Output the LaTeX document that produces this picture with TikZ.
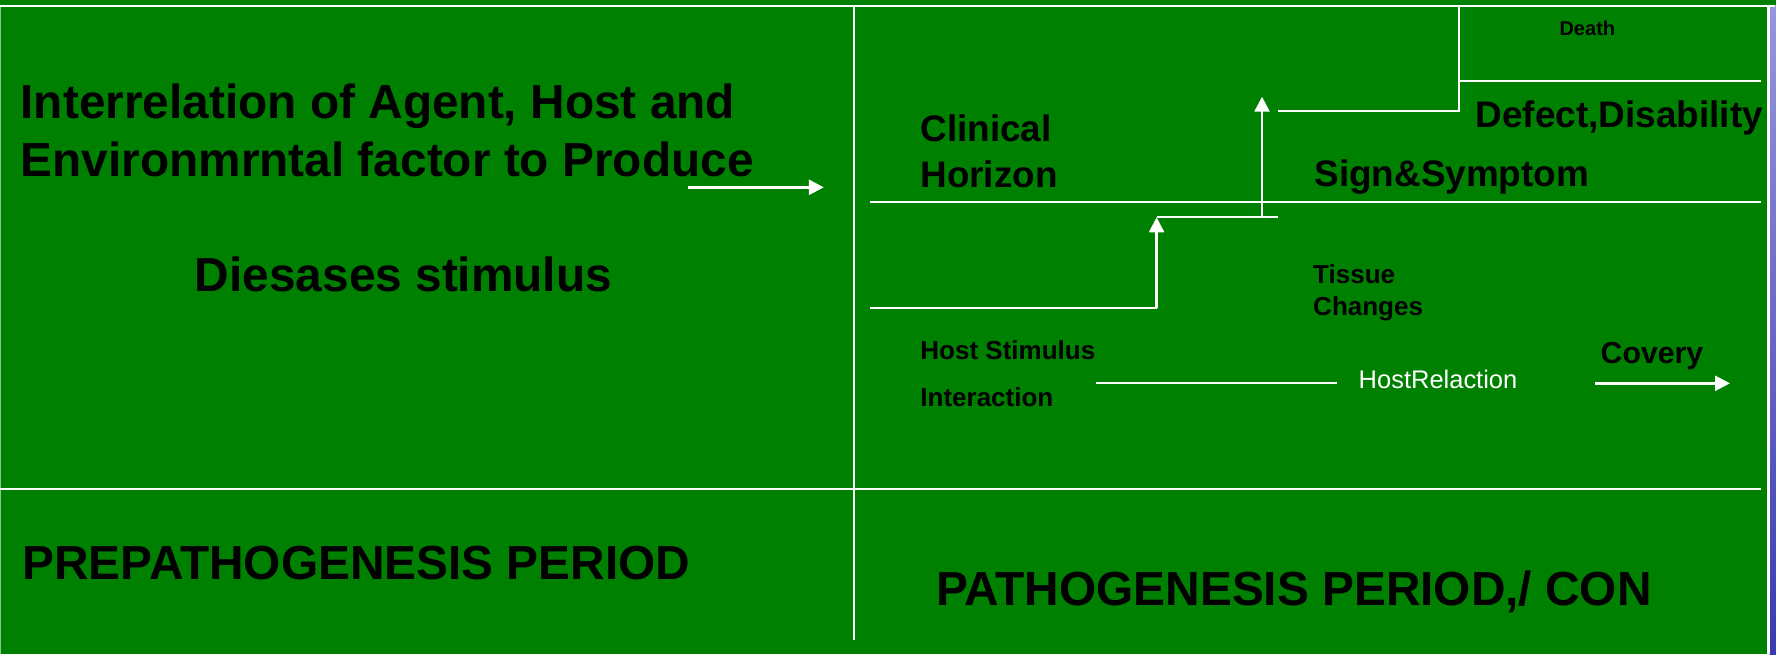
\documentclass[tikz,border=0pt]{standalone}
\usepackage{fontspec}
\setmainfont{Liberation Sans}
\usetikzlibrary{arrows.meta}
\definecolor{slidegreen}{RGB}{0,128,0}
\definecolor{edgelight}{RGB}{150,150,222}
\definecolor{edgeblue}{RGB}{58,58,178}
\tikzset{
  rule/.style={white,line width=0.6pt},
  pointer/.style={white,line width=0.7pt,-{Triangle[length=1.5mm,width=1.5mm]}},
  bigtxt/.style={inner sep=0pt,anchor=base west,font=\bfseries\fontsize{13.6}{16}\selectfont},
  midtxt/.style={inner sep=0pt,anchor=base west,font=\bfseries\fontsize{10.5}{12}\selectfont},
  smalltxt/.style={inner sep=0pt,anchor=base west,font=\bfseries\fontsize{7.4}{9}\selectfont},
}

\begin{document}
\begin{tikzpicture}
    \useasboundingbox (0,0) rectangle (17.76,6.54);
    \fill[slidegreen] (0,0) rectangle (17.76,6.54);
    \shade[top color=edgelight,bottom color=edgeblue] (17.697,0) rectangle (17.76,6.483);
    % frame and dividers
    \draw[white!55!slidegreen,line width=0.3pt] (0.005,6.483)--(0.005,0);
    \draw[rule] (0,6.483)--(17.75,6.483);
    \draw[rule] (17.685,6.483)--(17.685,0);
    \draw[rule] (8.54,6.483)--(8.54,0.14);
    \draw[rule] (0,1.647)--(17.61,1.647);
    \draw[rule] (8.70,4.523)--(17.61,4.523);
    % left panel
    \node[bigtxt] (inter1) at (0.20,5.36) {Interrelation of Agent, Host and};
    \node[bigtxt] (inter2) at (0.20,4.78) {Environmrntal factor to Produce};
    \node[bigtxt,anchor=base] (stim) at (4.035,3.63) {Diesases stimulus};
    \coordinate (arrowfrom) at (6.877,4.667);
    \coordinate (arrowto) at (8.238,4.667);
    \draw[pointer] (arrowfrom)--(arrowto);
    \node[bigtxt] (prepath) at (0.218,0.75) {PREPATHOGENESIS PERIOD};
    % right panel: steps
    \coordinate (s0) at (8.70,3.463);
    \coordinate (s1) at (11.566,3.463);
    \coordinate (s2) at (11.566,4.367);
    \coordinate (s3) at (12.776,4.367);
    \coordinate (s4) at (12.62,4.367);
    \coordinate (s5) at (12.62,5.573);
    \coordinate (s6) at (12.776,5.43);
    \coordinate (s7) at (14.59,5.43);
    \coordinate (s8) at (14.59,6.483);
    \coordinate (s9) at (17.61,5.73);
    \draw[rule] (s0)--(s1);
    \draw[pointer] (s1)--(s2);
    \draw[rule] (s2)--(s3);
    \draw[pointer] (s4)--(s5);
    \draw[rule] (s6)--(s7)--(s8);
    \draw[rule] (s7|-s9)--(s9);
    \node[bigtxt,font=\bfseries\fontsize{5.7}{7}\selectfont] (death) at (15.588,6.183) {Death};
    \node[midtxt] (defect) at (14.75,5.267) {Defect,Disability};
    \node[midtxt] (clin1) at (9.197,5.123) {Clinical};
    \node[midtxt] (clin2) at (9.197,4.67) {Horizon};
    \node[midtxt] (sign) at (13.137,4.673) {Sign\&Symptom};
    \node[smalltxt] (tiss1) at (13.125,3.707) {Tissue};
    \node[smalltxt] (tiss2) at (13.125,3.39) {Changes};
    \node[smalltxt] (host1) at (9.197,2.95) {Host Stimulus};
    \node[smalltxt] (host2) at (9.197,2.473) {Interaction};
    \node[inner sep=0pt,anchor=base west,white,font=\fontsize{7.25}{9}\selectfont] (relac) at (13.58,2.657) {HostRelaction};
    \coordinate (hostfrom) at (10.963,2.707);
    \coordinate (hostto) at (13.373,2.707);
    \draw[rule] (hostfrom)--(hostto);
    \node[smalltxt,font=\bfseries\fontsize{8.6}{10}\selectfont] (covery) at (16.0,2.907) {Covery};
    \coordinate (covfrom) at (15.954,2.707);
    \coordinate (covto) at (17.30,2.707);
    \draw[pointer] (covfrom)--(covto);
    % bottom right
    \node[bigtxt] (path) at (9.356,0.483) {PATHOGENESIS PERIOD,/ CON};
\end{tikzpicture}
\end{document}
